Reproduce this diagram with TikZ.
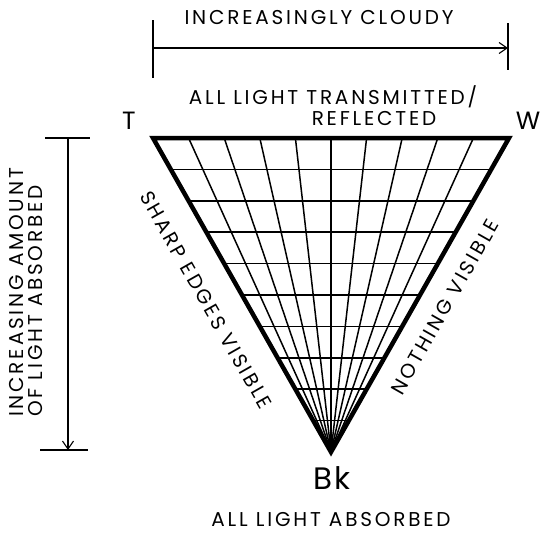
\documentclass[tikz,border=0pt]{standalone}
\usepackage{fontspec}
\setmainfont{Poppins}[LetterSpace=14]
\newfontfamily\cornerfont{Poppins}[LetterSpace=4]
\usetikzlibrary{arrows.meta,calc}
\tikzset{
  lbl/.style={inner sep=0pt, font=\fontsize{20}{22}\selectfont},
  big/.style={inner sep=0pt, font=\cornerfont\fontsize{25}{27}\selectfont},
  edge/.style={line width=4.5pt, line join=miter},
  grid/.style={line width=1.5pt},
  dim/.style={line width=1.1pt},
  dimarrow/.style={line width=1.1pt, -{Straight Barb[length=8pt,width=11pt,line width=1.1pt]}}
}
\begin{document}
\begin{tikzpicture}[x=1pt,y=-1pt]
\useasboundingbox (0,0) rectangle (546,533);
% corners
\coordinate (T) at (153,138);
\coordinate (W) at (509,138);
\coordinate (Bk) at (331,452);
% fan lines
\foreach \i in {1,...,9}{
  \draw[grid] ($(T)!\i/10!(W)$) -- (Bk);
}
% horizontal lines
\foreach \k in {1,...,9}{
  \draw[grid] ($(T)!\k/10!(Bk)$) -- ($(W)!\k/10!(Bk)$);
}
\draw[edge] (T) -- (W) -- (Bk) -- cycle;
% corner labels
\node[big] (tl) at (129,121) {T};
\node[big] (wl) at (528,121) {W};
\node[inner sep=0pt, font=\cornerfont\fontsize{31}{33}\selectfont] (bkl) at (332,478) {Bk};
% top arrow
\coordinate (a1) at (153,48);
\coordinate (a2) at (508,48);
\draw[dim] (153,20) -- (153,78);
\draw[dim] (508,23) -- (508,70);
\draw[dimarrow] (a1) -- (a2);
\node[lbl] (cloudy) at (319,18) {INCREASINGLY CLOUDY};
\node[lbl] (trans) at (333,97) {ALL LIGHT TRANSMITTED/};
\node[lbl] (refl) at (374,118) {REFLECTED};
\node[lbl] (absorb) at (331,520) {ALL LIGHT ABSORBED};
% left arrow
\coordinate (b1) at (68,138);
\coordinate (b2) at (68,450);
\draw[dim] (45,138) -- (90,138);
\draw[dim] (40,450) -- (88,450);
\draw[dimarrow] (b1) -- (b2);
\node[lbl, rotate=90, anchor=west, align=left, font=\fontsize{20}{19}\selectfont] (incr) at (26,417) {INCREASING AMOUNT\\OF LIGHT ABSORBED};
% side labels
\node[lbl, rotate=-60.4] (sharp) at (206,300) {SHARP EDGES VISIBLE};
\node[lbl, rotate=60.4] (nothing) at (445,307) {NOTHING VISIBLE};
\end{tikzpicture}
\end{document}
